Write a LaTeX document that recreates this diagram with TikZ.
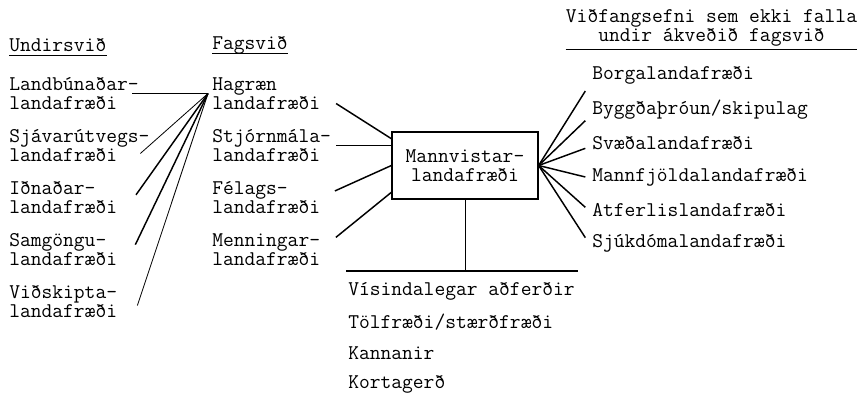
\documentclass[tikz,border=0pt]{standalone}
\usepackage{fontspec}
\newcommand{\typesize}{\ttfamily\fontsize{15.7}{14.25}\selectfont}
\tikzset{
  item/.style={anchor=west, align=left, inner sep=0pt, font=\typesize},
  head/.style={item},
  core/.style={draw, line width=0.9pt, inner sep=0pt, align=center, font=\typesize,
    minimum width=109.5pt, minimum height=50.25pt},
  link/.style={line width=1.1pt},
  thinlink/.style={line width=0.6pt}
}
\begin{document}
\begin{tikzpicture}[x=0.75pt, y=-0.75pt]
  \useasboundingbox (0,0) rectangle (867,402);

  % headers
  \node[head] (und) at (9,45) {Undirsvið};
  \node[head] (fag) at (212,45) {Fagsvið};
  \node[item, anchor=center, align=center] (hdr) at (711.5,28) {Viðfangsefni sem ekki falla\\undir ákveðið fagsvið};
  \draw[thinlink] ([yshift=-3pt]und.base west) -- ([yshift=-3pt]und.base east);
  \draw[thinlink] ([yshift=-3pt]fag.base west) -- ([yshift=-3pt]fag.base east);
  \draw[thinlink] ([yshift=-2pt]hdr.south west) -- ([yshift=-2pt]hdr.south east);

  % undirsvid
  \node[item] (lbu) at (9,93.5) {Landbúnaðar-\\landafræði};
  \node[item] (sja) at (9,145.5) {Sjávarútvegs-\\landafræði};
  \node[item] (idn) at (9,197.5) {Iðnaðar-\\landafræði};
  \node[item] (sam) at (9,250) {Samgöngu-\\landafræði};
  \node[item] (vid) at (9,301.5) {Viðskipta-\\landafræði};

  % fagsvid
  \node[item] (hag) at (212,93.5) {Hagræn\\landafræði};
  \node[item] (stj) at (212,145.5) {Stjórnmála-\\landafræði};
  \node[item] (fel) at (212,197.5) {Félags-\\landafræði};
  \node[item] (men) at (212,250) {Menningar-\\landafræði};

  \node[core] (mann) at (465,165.5) {Mannvistar-\\landafræði};

  % vidfangsefni
  \node[item] (bor) at (592,75) {Borgalandafræði};
  \node[item] (byg) at (592,110) {Byggðaþróun/skipulag};
  \node[item] (sva) at (592,143) {Svæðalandafræði};
  \node[item] (mfj) at (592,177) {Mannfjöldalandafræði};
  \node[item] (atf) at (592,210) {Atferlislandafræði};
  \node[item] (sjk) at (592,243) {Sjúkdómalandafræði};

  % adferdir
  \coordinate (ruleL) at (346,271);
  \coordinate (ruleR) at (578,271);
  \node[item] (vis) at (348,291) {Vísindalegar aðferðir};
  \node[item] (tol) at (348,322) {Tölfræði/stærðfræði};
  \node[item] (kan) at (348,353) {Kannanir};
  \node[item] (kor) at (348,384) {Kortagerð};

  \draw[link] (ruleL) -- (ruleR);
  \draw[thinlink] (mann.south) -- (mann.south |- ruleL);

  \draw[link] ([xshift=-5pt]lbu.east) -- ([xshift=-3pt]hag.west);
  \draw[thinlink] ([xshift=-7pt,yshift=-6pt]sja.east) -- ([xshift=-3pt]hag.west);
  \draw[link] ([xshift=14pt,yshift=2pt]idn.east) -- ([xshift=-3pt]hag.west);
  \draw[link] ([xshift=13.5pt,yshift=4pt]sam.east) -- ([xshift=-3pt]hag.west);
  \draw[thinlink] ([xshift=15pt,yshift=-3pt]vid.east) -- ([xshift=-3pt]hag.west);

  \foreach \from/\to/\gap in {hag/mann.160/14pt,fel/mann.west/12pt,men/mann.200/15pt}
    \draw[link, shorten <=\gap] (\from.east) -- (\to);
  \draw[link, shorten <=4pt] (stj.east) -- (mann.west |- stj.east);

  \foreach \to/\dy in {bor/-12pt,byg/-8pt,sva/-4pt,mfj/0pt,atf/2pt,sjk/4pt}
    \draw[link] (mann.east) -- ([xshift=-5pt,yshift=\dy]\to.west);
\end{tikzpicture}
\end{document}
